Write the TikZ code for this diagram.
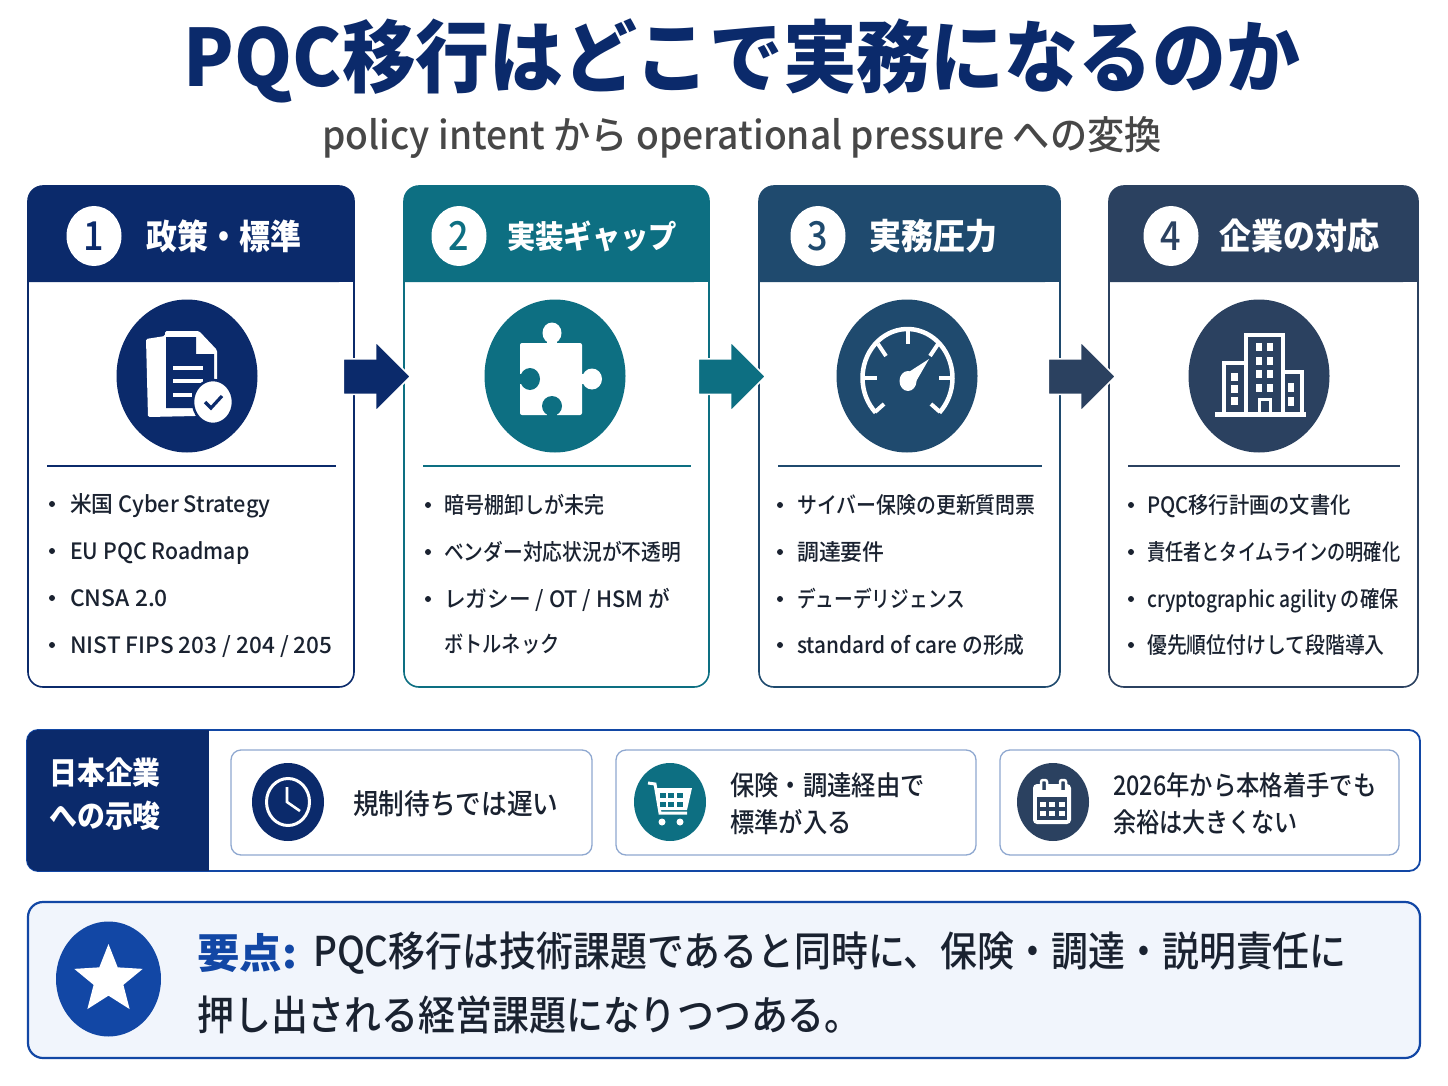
\documentclass[tikz,border=0pt]{standalone}
\usepackage{graphicx}
\usepackage{fontspec}
\setmainfont[FakeStretch=0.9]{Noto Sans CJK JP Medium}
\newfontfamily\titleface[FakeStretch=0.935]{Noto Sans CJK JP}
\newfontfamily\subface[FakeStretch=0.953]{Noto Sans CJK JP Medium}
\newfontfamily\heavyface[FakeStretch=0.9]{Noto Sans CJK JP}
\usetikzlibrary{shapes.geometric,shapes.arrows}
\definecolor{navy}{HTML}{0B2A6B}
\definecolor{teal2}{HTML}{0D6F82}
\definecolor{steel}{HTML}{1F4A6E}
\definecolor{slate}{HTML}{2B4160}
\definecolor{inktext}{HTML}{1A2230}
\definecolor{royal}{HTML}{1247A5}
\definecolor{edgeblue}{HTML}{8FA8D0}
\definecolor{panelbg}{HTML}{F1F5FC}
\newcommand{\fs}[1]{\fontsize{#1}{#1}\selectfont}
\newcommand{\sx}[2]{\scalebox{#1}[1]{#2}}
\newcommand{\hvy}{\heavyface\bfseries}
\begin{document}
\begin{tikzpicture}[
  x=1pt, y=-1pt,
  txt/.style={inner sep=0pt, anchor=west, text=inktext},
  item/.style={inner sep=0pt, anchor=base west, yshift=-8pt, text=inktext, font=\fs{22.5}},
  dot/.style={circle, fill=inktext, inner sep=0pt, minimum size=6pt},
  head/.style={inner sep=0pt, anchor=west, text=white, font=\hvy\fs{35.5}},
  numdot/.style={ellipse, fill=white, inner sep=0pt, minimum width=55pt, minimum height=60pt, font=\fs{40}},
  badge/.style={ellipse, inner sep=0pt, minimum width=141pt, minimum height=153pt},
  smallbadge/.style={ellipse, inner sep=0pt, minimum width=72pt, minimum height=78pt},
  flow/.style={single arrow, anchor=tip, inner xsep=0pt, inner ysep=17pt, draw=white, line width=1.5pt, minimum width=69pt, minimum height=67pt,
    single arrow head extend=17pt, single arrow tip angle=90, single arrow head indent=0pt},
  sub/.style={rectangle, rounded corners=10pt, draw=edgeblue, line width=1.3pt, fill=white},
]
\useasboundingbox (0,0) rectangle (1448,1086);
\fill[white] (0,0) rectangle (1448,1086);

% Title
\node[inner sep=0pt, text=navy, font=\titleface\bfseries\fs{79}] (title) at (742,61) {PQC移行はどこで実務になるのか};
\node[inner sep=0pt, text=black!72, font=\subface\fs{39}] (subtitle) at (742,137) {policy intent から operational pressure への変換};

% Cards
\foreach \id/\xl/\xr/\col in {a/28/354/navy, b/404/709/teal2, c/759/1060/steel, d/1109/1418/slate} {
  \draw[\col, line width=1.6pt, fill=white, rounded corners=15pt] (\xl,186) rectangle (\xr,687);
  \fill[\col, rounded corners=15pt] (\xl,282) -- (\xl,186) -- (\xr,186) -- (\xr,282) [sharp corners] -- cycle;
  \fill[\col] (\xl,260) rectangle (\xr,282);
  \draw[\col, line width=1.3pt] (\xl+19,466) -- (\xr-18,466);
}

% Headers
\node[numdot, text=navy] (numa) at (94,236) {1};
\node[head, font=\hvy\fs{34.4}] (heada) at (146,236) {政策・標準};
\node[numdot, text=teal2] (numb) at (459,236) {2};
\node[head, font=\hvy\fs{31.5}] (headb) at (507,236) {実装ギャップ};
\node[numdot, text=steel] (numc) at (818,236) {3};
\node[head] (headc) at (869,236) {実務圧力};
\node[numdot, text=slate] (numd) at (1171,236) {4};
\node[head] (headd) at (1219,236) {企業の対応};

% Icon badges
\node[badge, fill=navy] (icona) at (187,376) {};
\node[badge, fill=teal2] (iconb) at (555,376) {};
\node[badge, fill=steel] (iconc) at (907,376) {};
\node[badge, fill=slate] (icond) at (1259,376) {};

% Document icon
\fill[white, rounded corners=1.5pt] (146,339) -- (165,336) -- (165,331) -- (199,331) -- (217,350) -- (217,400) -- (196,416) -- (148,417) -- cycle;
\fill[navy] (166,337) -- (196,337) -- (196,354) -- (214,354) -- (214,408) -- (166,408) -- cycle;
\foreach \yy/\xe in {368/203, 381/203, 395/192}
  \draw[white, line width=4.5pt] (173,\yy) -- (\xe,\yy);
\node[ellipse, fill=white, draw=navy, line width=2.5pt, inner sep=0pt, minimum width=40pt, minimum height=44pt] (tick) at (213,402) {};
\draw[navy, line width=3.2pt] (205,402) -- (211,408) -- (222,396);

% Puzzle icon
\fill[white, rounded corners=2pt] (520,343) rectangle (582,415);
\node[ellipse, fill=white, inner sep=0pt, minimum width=19pt, minimum height=21pt] (knobt) at (552,333) {};
\node[ellipse, fill=white, inner sep=0pt, minimum width=20pt, minimum height=21pt] (knobr) at (592,379) {};
\fill[white] (547,338) rectangle (557,345);
\fill[white] (580,374) rectangle (588,384);
\node[ellipse, fill=teal2, inner sep=0pt, minimum width=20pt, minimum height=22pt] (notchl) at (530,379) {};
\node[ellipse, fill=teal2, inner sep=0pt, minimum width=20pt, minimum height=20pt] (notchb) at (552,406) {};
\fill[teal2] (519,374) rectangle (526,384);
\fill[teal2] (547,410) rectangle (557,416);

% Gauge icon
\draw[white, line width=4.5pt] plot[domain=-45:225, samples=50] ({907.5+45*cos(\x)},{378-49*sin(\x)});
\draw[white, line width=4pt] (875,412) -- (884,404) (940,412) -- (931,404);
\draw[white, line width=4pt] (908,330) -- (908,344) (862,378) -- (877,378) (939,378) -- (954,378);
\draw[white, line width=4pt] (878,344) -- (886,356) (938,344) -- (930,356);
\node[ellipse, fill=white, inner sep=0pt, minimum width=17pt, minimum height=20pt] (hub) at (908,381) {};
\fill[white] (901,377) -- (929,359) -- (914,385) -- cycle;

% Building icon
\draw[white, line width=4pt] (1246,413) -- (1246,335) -- (1283,335) -- (1283,413);
\draw[white, line width=4pt] (1246,363) -- (1224,363) -- (1224,413);
\draw[white, line width=4pt] (1283,372) -- (1302,372) -- (1302,413);
\draw[white, line width=5pt] (1215,414) -- (1306,414);
\foreach \yy in {343,357,370,384} {
  \fill[white] (1256,\yy) rectangle ++(6,8);
  \fill[white] (1267,\yy) rectangle ++(6,8);
}
\draw[white, line width=3pt] (1259,413) -- (1259,399) -- (1270,399) -- (1270,413);
\foreach \yy in {373,385,397}
  \fill[white] (1231,\yy) rectangle ++(7,8);
\foreach \yy in {383,397}
  \fill[white] (1288,\yy) rectangle ++(6,9);

% Flow arrows
\node[flow, fill=navy] (arrab) at (411.5,376.5) {};
\node[flow, fill=teal2] (arrbc) at (766.5,376.5) {};
\node[flow, fill=slate] (arrcd) at (1116.5,376.5) {};

% Card lists
\foreach \i/\yy/\k/\t in {1/504/1.075/{米国 Cyber Strategy}, 2/551/1.05/{EU PQC Roadmap}, 3/598/1.13/{CNSA 2.0}, 4/645/1.115/{NIST FIPS 203 / 204 / 205}} {
  \node[dot] (dota\i) at (52,\yy) {};
  \node[item] (itema\i) at (70,\yy) {\sx{\k}{\t}};
}
\foreach \i/\yy/\k/\t in {1/505/.99/{暗号棚卸しが未完}, 2/552/.975/{ベンダー対応状況が不透明}, 3/599/1.07/{レガシー / OT / HSM が}} {
  \node[dot] (dotb\i) at (428,\yy) {};
  \node[item] (itemb\i) at (444,\yy) {\sx{\k}{\t}};
}
\node[item] (itemb4) at (444,644) {\sx{.95}{ボトルネック}};
\foreach \i/\yy/\k/\t in {1/505/.983/{サイバー保険の更新質問票}, 2/552/1.08/{調達要件}, 3/599/.923/{デューデリジェンス}, 4/645/1.027/{standard of care の形成}} {
  \node[dot] (dotc\i) at (780,\yy) {};
  \node[item] (itemc\i) at (797,\yy) {\sx{\k}{\t}};
}
\foreach \i/\yy/\k/\t in {1/505/1/{PQC移行計画の文書化}, 2/552/.897/{責任者とタイムラインの明確化}, 3/599/.947/{cryptographic agility の確保}, 4/645/.98/{優先順位付けして段階導入}} {
  \node[dot] (dotd\i) at (1131,\yy) {};
  \node[item] (itemd\i) at (1147,\yy) {\sx{\k}{\t}};
}

% Implications band
\draw[royal, line width=1.8pt, fill=white, rounded corners=11pt] (27,730) rectangle (1420,871);
\fill[navy, rounded corners=11pt] (60,730) -- (27,730) -- (27,871) -- (60,871) [sharp corners] -- cycle;
\fill[navy] (50,730) rectangle (209,871);
\node[inner sep=0pt, text=white, font=\hvy\fs{31}] (banda) at (105,773) {日本企業};
\node[inner sep=0pt, text=white, font=\hvy\fs{31}] (bandb) at (105,816) {への示唆};

\node[sub, minimum width=361pt, minimum height=105pt] (boxa) at (411.5,802.5) {};
\node[sub, minimum width=360pt, minimum height=105pt] (boxb) at (796,802.5) {};
\node[sub, minimum width=399pt, minimum height=105pt] (boxc) at (1199.5,802.5) {};
\node[smallbadge, fill=navy] (clock) at (288,802) {};
\node[smallbadge, fill=teal2] (cart) at (670,802) {};
\node[smallbadge, fill=slate] (cal) at (1053,802) {};

% Clock icon
\node[ellipse, draw=white, line width=3pt, inner sep=0pt, minimum width=43pt, minimum height=47pt] (face) at (288,802) {};
\draw[white, line width=2.6pt] (287,787) -- (287,802) -- (300,811);

% Cart icon
\draw[white, line width=3pt] (648,783) -- (655,784) -- (660,813) -- (687,813);
\fill[white] (656,788) -- (692,788) -- (687,810) -- (660,810) -- cycle;
\foreach \xx in {660,668,677} {
  \fill[teal2] (\xx,793) rectangle ++(6,5);
  \fill[teal2] (\xx,802) rectangle ++(6,5);
}
\node[circle, fill=white, inner sep=0pt, minimum size=7pt] (wheela) at (662,822) {};
\node[circle, fill=white, inner sep=0pt, minimum size=7pt] (wheelb) at (680,822) {};

% Calendar icon
\fill[white, rounded corners=4pt] (1033,784) rectangle (1071,824);
\fill[slate] (1037,797) rectangle (1067,820);
\draw[slate, line width=6pt] (1044,778) -- (1044,790) (1063,778) -- (1063,790);
\draw[white, line width=2.5pt, rounded corners=2pt] (1041,790) -- (1041,780) -- (1047,780) -- (1047,790);
\draw[white, line width=2.5pt, rounded corners=2pt] (1060,790) -- (1060,780) -- (1066,780) -- (1066,790);
\foreach \xx in {1040,1049,1059} {
  \fill[white] (\xx,802) rectangle ++(6,5);
  \fill[white] (\xx,811) rectangle ++(6,5);
}

% Implication texts
\node[txt, font=\fs{28.5}] (texta) at (353,804) {規制待ちでは遅い};
\node[txt, font=\fs{27}] (textb) at (730,785) {保険・調達経由で};
\node[txt, font=\fs{27}] (textbb) at (730,822) {標準が入る};
\node[txt, font=\fs{27}] (textc) at (1113,785) {\sx{.96}{2026年から本格着手でも}};
\node[txt, font=\fs{27}] (textcc) at (1113,822) {\sx{.95}{余裕は大きくない}};

% Key point
\draw[royal, line width=2.2pt, fill=panelbg, rounded corners=15pt] (28,902) rectangle (1420,1058);
\node[ellipse, fill=royal, inner sep=0pt, minimum width=105pt, minimum height=115pt] (starbg) at (108.5,979) {};
\node[star, star points=5, star point ratio=2.3, fill=white, inner sep=0pt, minimum size=72pt] (starmark) at (108.5,980) {};
\node[txt, text=royal, font=\hvy\fs{41}] (keylabel) at (197,953) {\sx{1.15}{要点:}};
\node[txt, font=\fs{41}] (keya) at (313,953) {PQC移行は技術課題であると同時に、保険・調達・説明責任に};
\node[txt, font=\fs{41}] (keyb) at (197,1015) {押し出される経営課題になりつつある。};
\end{tikzpicture}
\end{document}
